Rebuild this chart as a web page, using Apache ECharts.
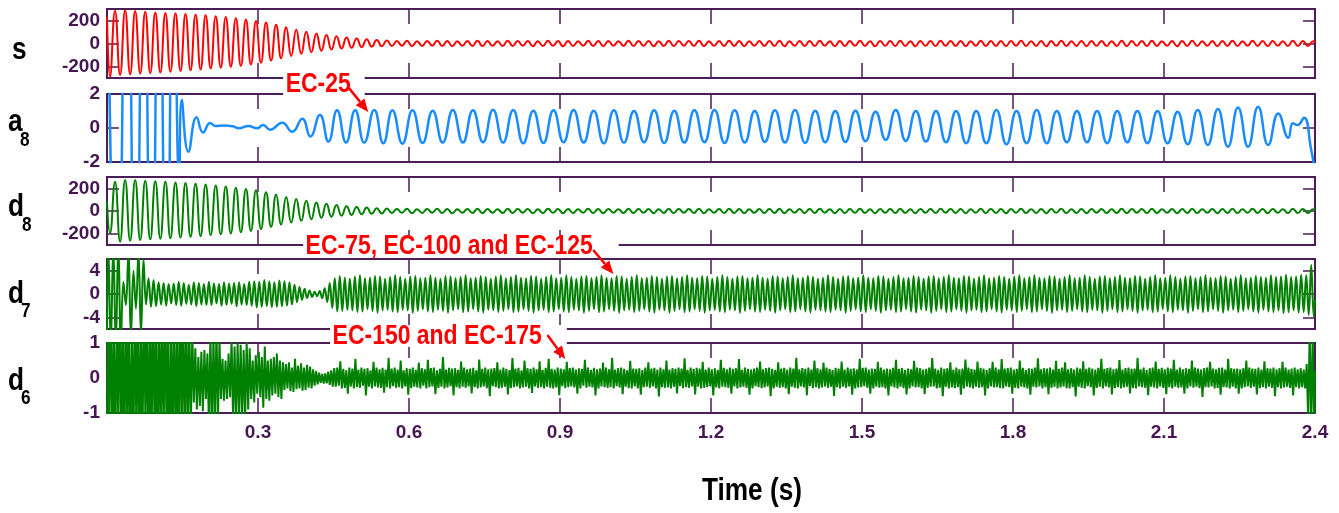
<!DOCTYPE html>
<html>
<head>
<meta charset="utf-8">
<script src="https://cdn.jsdelivr.net/npm/echarts@6/dist/echarts.min.js"></script>
<style>
  html, body { margin: 0; padding: 0; background: #ffffff; }
  #chart { width: 1339px; height: 513px; }
</style>
</head>
<body>
<div id="chart"></div>
<script>
// ---------------------------------------------------------------------------
// Wavelet decomposition of the signal s: approximation a8 and details d8..d6.
// Each trace is stored as its successive extrema (peak / trough values);
// an optional head and tail hold [time, value] pairs for irregular parts.
// ---------------------------------------------------------------------------

const timeTicks = [0.3, 0.6, 0.9, 1.2, 1.5, 1.8, 2.1, 2.4];
const timeTickLabels = ['0.3', '0.6', '0.9', '1.2', '1.5', '1.8', '2.1', '2.4'];

const sTicks = [-200, 0, 200];
const a8Ticks = [-2, 0, 2];
const d8Ticks = [-200, 0, 200];
const d7Ticks = [-4, 0, 4];
const d6Ticks = [-1, 0, 1];

// s : 50 Hz extrema every 0.01 s from t = 0.006 (trough first)
const sHead = [[0, 230]];
const sSwing = [
  -290,285, -275,290, -268,282, -262,276, -258,270, -252,266, -246,262, -240,256, -233,250, -226,245,
  -218,238, -210,230, -202,220, -194,208, -182,196, -168,182, -148,164, -128,142, -108,120, -90,102,
  -75,88, -62,74, -52,62, -44,52, -38,44, -32,37, -27,31, -24,27,
  -22,21, -20,23, -23,20, -21,22, -19,24, -22,21, -24,19, -20,22, -21,23, -23,21,
  -20,20, -22,24, -21,21, -19,22, -23,20, -22,23, -20,21, -24,22, -21,19, -20,23,
  -22,21, -23,22, -19,20, -21,24, -22,21, -20,22, -24,20, -21,23, -22,21, -19,22,
  -21,23, -23,20, -20,21, -22,24, -21,22, -23,19, -20,22, -22,21, -21,23, -24,20,
  -20,22, -22,21, -21,24, -19,20, -23,22, -22,21, -20,23, -21,20, -23,22, -20,21,
  -22,23, -21,20, -24,22, -20,21, -22,24, -19,21, -21,22, -23,20, -20,23, -22,21,
  -21,22, -23,21, -20,23, -22,20, -21,22, -24,21, -20,24, -22,19, -21,22, -23,21,
  -20,22, -22,20, -21,23, -23,21, -19,22, -22,24, -21,20, -20,22, -24,21, -21,23,
  -22,20, -20,22, -23,21, -21,24, -22,20, -20,23, -21,21, -23,22, -20,20, -22,23,
  -21,22, -22,20
];
const sTail = [[2.4, 5]];

// a8 : saturated start, decay, then a 25 Hz swing (extrema every 0.02 s from 0.567)
const a8Head = [
  [0, 14], [0.0199, -14], [0.0398, 14], [0.0567, -14], [0.0726, 14], [0.0885, -14],
  [0.1034, 14], [0.1183, -14], [0.1322, 14], [0.1435, -3.2], [0.1485, 1.65], [0.1617, -1.39],
  [0.178, 0.63], [0.191, -0.27], [0.205, 0.3], [0.215, 0.12], [0.232, 0.15], [0.25, 0.1],
  [0.262, -0.02], [0.281, 0.12], [0.298, -0.02], [0.31, 0.18], [0.324, -0.1], [0.348, 0.31],
  [0.368, -0.22], [0.388, 0.55], [0.404, -0.5], [0.423, 0.76], [0.44, -0.8], [0.457, 1.04],
  [0.475, -0.86], [0.493, 1.05], [0.511, -0.86], [0.531, 1.06], [0.549, -0.9]
];
const a8Swing = [
  1.05,-0.92, 1.04,-0.88, 1.02,-0.86, 1.06,-0.86, 1.05,-0.84, 1.08,-0.86, 1.06,-0.9, 1.02,-0.88,
  1.04,-0.84, 1.06,-0.86, 1.02,-0.9, 1.04,-0.86, 1.0,-0.84, 1.05,-0.88, 1.02,-0.86, 1.04,-0.84,
  1.06,-0.88, 1.04,-0.86, 1.0,-0.82, 1.04,-0.86, 1.06,-0.88, 1.02,-0.84, 1.0,-0.82, 1.02,-0.78,
  0.96,-0.7, 1.06,-0.76, 1.0,-0.8, 1.0,-0.84, 1.0,-0.9, 1.0,-0.9, 1.06,-0.96, 1.0,-0.9,
  1.06,-0.9, 1.0,-0.84, 1.0,-0.84, 1.0,-0.9, 1.0,-0.84, 1.0,-0.9, 1.0,-0.9, 0.96,-0.96,
  1.06,-1.0, 1.12,-1.1, 1.2,-1.1, 1.25,-1.0, 0.86,-0.57
];
const a8Tail = [[2.356, 0.28], [2.365, 0.17], [2.378, 0.6], [2.392, -1.2], [2.4, -2.6]];

// d8 : 50 Hz detail, extrema every 0.01 s from t = 0.006
const d8Head = [[0, 82]];
const d8Swing = [
  -195,259, -271,274, -262,274, -256,267, -250,262, -245,258, -240,252, -234,246, -228,240, -222,234,
  -214,226, -206,216, -198,206, -188,194, -176,182, -160,166, -140,146, -120,124, -102,106, -86,90,
  -72,76, -60,63, -50,52, -42,43, -35,36, -29,30, -24,25, -21,22,
  -18,17, -16,19, -19,16, -17,18, -15,19, -18,17, -19,16, -16,18, -17,19, -19,17,
  -16,16, -18,19, -17,17, -15,18, -19,16, -18,19, -16,17, -19,18, -17,15, -16,19,
  -18,17, -19,18, -15,16, -17,19, -18,17, -16,18, -19,16, -17,19, -18,17, -15,18,
  -17,19, -19,16, -16,17, -18,19, -17,18, -19,15, -16,18, -18,17, -17,19, -19,16,
  -16,18, -18,17, -17,19, -15,16, -19,18, -18,17, -16,19, -17,16, -19,18, -16,17,
  -18,19, -17,16, -19,18, -16,17, -18,19, -15,17, -17,18, -19,16, -16,19, -18,17,
  -17,18, -19,17, -16,19, -18,16, -17,18, -19,17, -16,19, -18,15, -17,18, -19,17,
  -16,18, -18,16, -17,19, -19,17, -15,18, -18,19, -17,16, -16,18, -19,17, -17,19,
  -18,16, -16,18, -19,17, -17,19, -18,16, -16,19, -17,17, -19,18, -16,16, -18,19,
  -17,18, -18,16
];
const d8Tail = [[2.4, 4]];

// d7 : 75/100/125 Hz band, extrema every 0.005 s from t = 0.0025
const d7Head = [[0, -6.5]];
const d7Swing = [
  9,-9, 8.5,-9, 9,-8.5,
  2.1,-1.9,
  7,-7.5, 4,-2.5, 7.5,-7, 6,
  -1.8, 2.7,-2.2, 2.4,-2.1,
  2.0,-1.8,1.9,-2.0,1.7,-1.6,1.8,-1.9,2.1,-2.0, 1.9,-1.7,1.6,-1.8,2.0,-2.1,1.9,-1.8,1.7,-1.9,
  2.1,-1.9,1.8,-1.6,1.7,-2.0,2.0,-1.9,1.8,-1.7, 1.9,-2.1,2.0,-1.8,1.7,-1.9,2.1,-2.0,
  2.2,-2.3,2.1,-2.2,2.4,-2.1,2.2,-2.3,2.0,-2.2,2.3,-2.1,2.2,-2.0,
  2.0,-1.8,1.6,-1.4,1.2,-1.0,
  0.9,-0.7,0.6,-0.5,0.4,-0.4,
  0.5,-0.7,1.0,-1.4,
  1.9,-2.4,2.7,-3.0,
  3.1,-2.9,2.8,-2.7,2.6,-2.8,3.0,-3.1,3.2,-3.0,2.7,-2.6,2.8,-2.9,3.1,-3.2,
  3.0,-2.8,2.6,-2.7,2.9,-3.0,3.2,-3.1,2.9,-2.7,2.6,-2.8,3.0,-3.2,3.1,-2.9,
  2.7,-2.6,2.8,-3.0,3.2,-3.1,2.8,-2.7,2.6,-2.9,3.1,-3.2,3.0,-2.8,2.7,-2.6,
  2.9,-3.1,3.2,-3.0,2.7,-2.6,2.8,-3.0,3.1,-3.2,2.9,-2.7,2.6,-2.8,3.0,-3.1,
  3.2,-2.9,2.7,-2.6,2.9,-3.1,3.2,-3.0,2.8,-2.6,2.7,-2.9,3.1,-3.2,3.0,-2.8,
  2.6,-2.7,2.9,-3.1,3.2,-3.0,2.7,-2.6,2.8,-3.0,3.2,-3.1,2.9,-2.7,2.6,-2.8,
  3.0,-3.2,3.1,-2.9,2.7,-2.6,2.9,-3.1,3.2,-3.0,2.8,-2.6,2.7,-2.9,3.1,-3.2,
  3.0,-2.8,2.6,-2.7,2.9,-3.1,3.2,-2.9,2.7,-2.6,2.8,-3.0,3.1,-3.2,2.9,-2.7,
  2.6,-2.8,3.0,-3.2,3.1,-2.9,2.7,-2.6,2.9,-3.1,3.2,-3.0,2.8,-2.6,2.7,-2.9,
  3.1,-3.2,3.0,-2.8,2.6,-2.7,2.9,-3.0,3.2,-3.1,2.9,-2.7,2.6,-2.8,3.0,-3.2,
  3.1,-2.9,2.7,-2.6,2.8,-3.0,3.2,-3.1,2.8,-2.7,2.6,-2.9,3.1,-3.2,3.0,-2.8,
  2.7,-2.6,2.9,-3.1,3.2,-3.0,2.7,-2.6,2.8,-3.0,3.1,-3.2,2.9,-2.7,2.6,-2.8,
  2.8,-3.0,3.2,-3.1,2.9,-2.7,2.6,-2.8,3.0,-3.2,3.1,-2.9,2.7,-2.6,2.8,-3.0,
  3.2,-3.1,2.8,-2.6,2.7,-2.9,3.1,-3.2,3.0,-2.8,2.6,-2.7,2.9,-3.1,3.2,-3.0,
  2.7,-2.6,2.8,-3.0,3.1,-3.2,2.9,-2.7,2.6,-2.8,3.0,-3.2,3.1,-2.9,2.7,-2.6,
  2.9,-3.1,3.2,-3.0,2.8,-2.6,2.7,-2.9,3.1,-3.2,3.0,-2.8,2.6,-2.7,2.9,-3.1,
  3.2,-3.0,2.7,-2.6,2.8,-3.0,3.1,-3.2,2.9,-2.7,2.6,-2.8,3.0,-3.1,3.2,-2.9,
  2.7,-2.6,2.9,-3.1,3.2,-3.0,2.8,-2.6,2.7,-2.9,3.1,-3.2,3.0,-2.8,2.6,-2.7,
  2.9,-3.1,3.2,-2.9,2.7,-2.6,2.8,-3.0,3.2,-3.1,2.9,-2.7,2.6,-2.8,3.0,-3.2,
  3.1,-2.9,2.7,-2.6,2.9,-3.1,3.2,-3.0,2.8,-2.6,2.7,-2.9,3.1,-3.2,3.0,-2.8,
  2.6,-2.7,2.9,-3.1,3.2,-3.0,2.7,-2.6,2.8,-3.0,3.2,-3.1,2.9,-2.7,2.6,-2.8,
  3.0,-3.2,3.1,-2.9,2.7,-2.6,2.9,-3.1,3.2,-3.0,2.8,-2.6,2.7,-2.9,3.1,-3.2,
  3.0,-2.8,2.6,-2.7,2.9,-3.1,3.2,-2.9,2.7,-2.6,2.8,-3.0,3.1,-3.2,2.9,-2.7,
  2.8,-3.0,3.2,-3.1,2.9,-2.8,3.0,-3.3,3.3,-3.1,2.9,-2.8,3.0,-3.2,3.3,-3.1,
  3.2,-3.6,5.0,-3.8
];
const d7Tail = [[2.4, -1]];

// d6 : 150/175 Hz band, extrema every 0.003 s from t = 0.0015
const d6Head = [[0, -1.5]];
const d6Swing = [
  2.2,-1.8,2.5,-2.0,1.6,-2.4,2.1,-1.5,2.6,-2.2, 1.8,-2.5,2.3,-1.7,2.0,-2.6,1.5,-2.1,2.4,-1.9,
  2.2,-2.3,1.7,-2.0,2.5,-1.6,2.1,-2.4,1.9,-2.2, 2.6,-1.8,1.6,-2.5,2.3,-2.0,1.8,-1.7,2.4,-2.1,
  2.0,-2.6,1.5,-1.9,2.2,-2.3,1.7,-2.4,2.5,-1.6, 1.9,-2.0,2.1,-1.8,1.6,-1.4,1.3,
  -0.7,0.85,-0.9,0.6,-0.8,0.75,-0.95,0.8,-0.6,0.7,
  -1.4,1.3,-1.5,1.2,-1.3,1.4,-1.2,1.1,
  -0.6,0.55,-0.65,0.5,-0.6,0.7,-0.55,
  1.1,-1.2,0.9,-1.3,1.0,-1.1,0.95,-1.2,0.8,-1.15,1.05,-0.9,0.85,
  -0.6,0.5,-0.7,0.65,-0.45,0.75,-0.55,0.6,-0.85,0.9,-0.6,0.5,-0.65,0.55,-0.5,0.6,-0.45,0.7,-0.55,0.5,-0.6,0.45,
  -0.35,0.4,-0.3,0.45,-0.38,0.3,-0.4,0.55,-0.32,0.35,-0.3,0.42,-0.36,0.3,-0.34,0.38,-0.28,0.33,-0.3,0.25,-0.22,0.2,-0.18,
  0.15,-0.14,0.12,-0.16,0.13,-0.15,0.18,-0.2,0.22,-0.25,
  0.28,-0.25,0.3,-0.22,0.48,-0.3,0.26,-0.28,0.22,-0.45,0.3,-0.24,0.27,-0.3,0.55,-0.26,0.24,-0.28,0.3,-0.22,
  0.26,-0.5,0.28,-0.25,0.22,-0.3,0.46,-0.24,0.3,-0.27,0.25,-0.28,0.29,-0.42,0.24,-0.26,0.58,-0.3,0.27,-0.23,
  0.3,-0.28,0.24,-0.26,0.5,-0.3,0.22,-0.24,0.28,-0.48,0.26,-0.29,0.3,-0.25,0.23,-0.27,0.44,-0.3,0.28,-0.22,
  0.25,-0.3,0.52,-0.26,0.28,-0.24,0.3,-0.46,0.22,-0.28,0.26,-0.25,0.6,-0.3,0.24,-0.27,0.29,-0.23,0.27,-0.5,
  0.28,-0.26,0.23,-0.3,0.47,-0.25,0.3,-0.28,0.25,-0.24,0.27,-0.44,0.29,-0.26,0.22,-0.3,0.53,-0.27,0.26,-0.24,
  0.3,-0.29,0.25,-0.52,0.27,-0.23,0.28,-0.26,0.45,-0.3,0.24,-0.28,0.3,-0.25,0.26,-0.47,0.23,-0.29,0.57,-0.26,
  0.27,-0.24,0.29,-0.3,0.22,-0.27,0.5,-0.25,0.28,-0.3,0.26,-0.43,0.3,-0.24,0.25,-0.28,0.48,-0.26,0.23,-0.3,
  0.29,-0.25,0.55,-0.28,0.26,-0.3,0.24,-0.27,0.3,-0.49,0.27,-0.23,0.25,-0.29,0.46,-0.26,0.28,-0.24,0.3,-0.27,
  0.24,-0.45,0.28,-0.3,0.26,-0.22,0.52,-0.28,0.3,-0.25,0.23,-0.27,0.29,-0.5,0.25,-0.3,0.27,-0.24,0.44,-0.26,
  0.3,-0.28,0.25,-0.26,0.58,-0.3,0.24,-0.23,0.28,-0.27,0.3,-0.46,0.26,-0.25,0.22,-0.29,0.49,-0.3,0.27,-0.24,
  0.26,-0.3,0.28,-0.48,0.23,-0.26,0.3,-0.25,0.45,-0.28,0.27,-0.24,0.29,-0.3,0.24,-0.53,0.3,-0.26,0.25,-0.28,
  0.5,-0.27,0.24,-0.3,0.28,-0.25,0.26,-0.44,0.3,-0.23,0.27,-0.29,0.56,-0.26,0.23,-0.28,0.3,-0.24,0.26,-0.47,
  0.29,-0.25,0.27,-0.3,0.46,-0.28,0.24,-0.26,0.3,-0.24,0.25,-0.5,0.28,-0.27,0.23,-0.3,0.52,-0.25,0.29,-0.26,
  0.25,-0.28,0.3,-0.45,0.26,-0.24,0.28,-0.3,0.54,-0.27,0.23,-0.25,0.3,-0.28,0.26,-0.48,0.24,-0.3,0.27,-0.23,
  0.3,-0.26,0.47,-0.29,0.25,-0.27,0.28,-0.24,0.3,-0.52,0.26,-0.3,0.23,-0.25,0.45,-0.28,0.27,-0.26,0.29,-0.3,
  0.24,-0.46,0.3,-0.25,0.27,-0.28,0.58,-0.3,0.25,-0.24,0.28,-0.27,0.26,-0.49,0.3,-0.23,0.24,-0.29,0.5,-0.26,
  0.28,-0.3,0.25,-0.27,0.44,-0.24,0.3,-0.28,0.26,-0.25,0.23,-0.51,0.29,-0.26,0.27,-0.3,0.47,-0.25,0.24,-0.28,
  0.3,-0.24,0.26,-0.48,0.28,-0.3,0.25,-0.27,0.55,-0.26,0.29,-0.23,0.3,-0.28,0.24,-0.45,0.27,-0.3,0.26,-0.25,
  0.46,-0.28,0.3,-0.26,0.24,-0.3,0.27,-0.5,0.25,-0.24,0.29,-0.27,0.52,-0.3,0.26,-0.25,0.28,-0.29,0.23,-0.47,
  0.27,-0.3,0.25,-0.24,0.49,-0.27,0.3,-0.26,0.28,-0.3,0.24,-0.46,0.26,-0.28,0.3,-0.25,0.57,-0.24,0.27,-0.3,
  0.23,-0.28,0.3,-0.52,0.26,-0.25,0.28,-0.3,0.45,-0.27,0.24,-0.29,0.3,-0.26,0.25,-0.48,0.27,-0.3,0.53,-0.24,
  0.3,-0.27,0.26,-0.3,0.24,-0.25,0.47,-0.28,0.29,-0.26,0.27,-0.5,0.23,-0.3,0.28,-0.24,0.46,-0.27,0.3,-0.26,
  0.25,-0.29,0.54,-0.3,0.27,-0.24,0.28,-0.26,0.3,-0.45,0.24,-0.28,0.26,-0.3,0.5,-0.25,0.29,-0.27,0.23,-0.3,
  0.28,-0.48,0.26,-0.25,0.3,-0.27,0.56,-0.24,0.25,-0.3,0.28,-0.26,0.27,-0.46,0.3,-0.28,0.24,-0.25,0.49,-0.3,
  0.26,-0.27,0.3,-0.24,0.45,-0.29,0.25,-0.3,0.28,-0.26,0.24,-0.53,0.3,-0.25,0.27,-0.28,0.48,-0.3,0.26,-0.23,
  0.3,-0.26,0.27,-0.5,0.24,-0.28,0.29,-0.25,0.55,-0.3,0.26,-0.24,0.28,-0.27,0.3,-0.47,0.25,-0.29,0.27,-0.26,
  0.51,-0.3,0.24,-0.27,0.28,-0.25,0.3,-0.44,0.26,-0.28,0.27,-0.3,0.58,-0.24,0.25,-0.26,0.3,-0.28,0.23,-0.49,
  0.28,-0.25,0.3,-0.27,0.47,-0.3,0.26,-0.24,0.29,-0.28,0.25,-0.46,0.3,-0.26,0.27,-0.3,0.52,-0.25,0.24,-0.28,
  0.3,-0.27,0.25,-0.45,0.28,-0.3,0.26,-0.24,0.5,-0.28,0.3,-0.25,0.27,-0.29,0.24,-0.54,0.28,-0.26,0.3,-0.27,
  0.46,-0.24,0.27,-0.3,0.25,-0.28,0.29,-0.48,0.3,-0.26,0.24,-0.27,0.55,-0.3,0.28,-0.25,0.26,-0.3,0.27,-0.45,
  0.25,-0.3,0.28,-0.26,0.5,-0.24,0.3,-0.28,0.27,-0.25,0.26,-0.47,0.3,-0.29,0.24,-0.26,0.48,-0.3,0.28,-0.25,
  0.27,-0.28,0.3,-0.52,0.25,-0.26,0.28,-0.3,0.46,-0.27,0.3,-0.25,0.24,-0.28,0.27,-0.5,0.3,-0.26,0.25,-0.3,
  0.28,-0.26,0.24,-0.3,
  0.4,-1.2,1.4,-1.3,1.2,-1.4
];
const d6Tail = [[2.4, 0.2]];

// Annotations (axis units of the panel they sit in)
const notes = [
  { text: 'EC-25', panel: 1, left: [0.35, 2.59], from: [0.479, 2.41], to: [0.519, 0.94], padRight: 14 },
  { text: 'EC-75, EC-100 and EC-125', panel: 3, left: [0.3897, 8.14], from: [0.966, 7.54], to: [1.006, 3.43], padRight: 26 },
  { text: 'EC-150 and EC-175', panel: 4, left: [0.4433, 1.2], from: [0.875, 1.23], to: [0.9105, 0.54], padRight: 25 }
];

// ---------------------------------------------------------------------------

function trace(head, start, step, values, tail) {
  const pts = head.map(p => p.slice());
  values.forEach((v, i) => pts.push([Math.round((start + i * step) * 1e5) / 1e5, v]));
  tail.forEach(p => pts.push(p.slice()));
  return pts;
}

const FRAME = '#4b1d56';
const TEXT = '#451650';
const SANS = "'Liberation Sans', Arial, sans-serif";
const NARROW = 0.82;   // horizontal squeeze giving a narrow bold face

const panels = [
  { name: 's', sub: '', color: '#ff0000', width: 2, smooth: 0.5, range: [-300, 300], ticks: sTicks,
    data: trace(sHead, 0.006, 0.01, sSwing, sTail), top: 9, height: 69,
    nameAt: [12, 50], subAt: null },
  { name: 'a', sub: '8', color: '#1a8cff', width: 2.5, smooth: 0.5, range: [-2, 2], ticks: a8Ticks,
    data: trace(a8Head, 0.567, 0.02, a8Swing, a8Tail), top: 94, height: 68,
    nameAt: [8, 122], subAt: [20, 140] },
  { name: 'd', sub: '8', color: '#008000', width: 2, smooth: 0.5, range: [-300, 300], ticks: d8Ticks,
    data: trace(d8Head, 0.006, 0.01, d8Swing, d8Tail), top: 177, height: 68,
    nameAt: [8, 207], subAt: [22, 225] },
  { name: 'd', sub: '7', color: '#008000', width: 2, smooth: 0.4, range: [-6, 6], ticks: d7Ticks,
    data: trace(d7Head, 0.0025, 0.005, d7Swing, d7Tail), top: 259, height: 70,
    nameAt: [8, 294], subAt: [21, 311] },
  { name: 'd', sub: '6', color: '#008000', width: 2, smooth: false, range: [-1, 1], ticks: d6Ticks,
    data: trace(d6Head, 0.0015, 0.003, d6Swing, d6Tail), top: 343, height: 70,
    nameAt: [8, 381], subAt: [21, 398] }
];

const grid = [], xAxis = [], yAxis = [], series = [], graphic = [];
const tickLine = { color: FRAME, width: 1.5 };
const last = panels.length - 1;

function label(text, x, y, size, fill, align, extra) {
  return Object.assign({ type: 'text', x: x, y: y, scaleX: NARROW, scaleY: 1, z: 40,
    style: Object.assign({ text: text, x: 0, y: 0, fill: fill, align: align, verticalAlign: 'middle',
      font: 'bold ' + size + 'px ' + SANS }, extra || {}) });
}

panels.forEach((p, i) => {
  grid.push({ left: 107, right: 24, top: p.top, height: p.height, show: true,
              borderColor: FRAME, borderWidth: 2, backgroundColor: 'transparent',
              containLabel: false, outerBoundsMode: 'none' });
  ['bottom', 'top'].forEach(pos => {
    xAxis.push({
      gridIndex: i, type: 'value', min: 0, max: 2.4, position: pos,
      axisLine: { show: false, onZero: false },
      splitLine: { show: false },
      axisTick: { show: true, inside: true, length: 15, lineStyle: tickLine,
                  customValues: timeTicks.slice(0, -1) },
      axisLabel: { show: pos === 'bottom' && i === last, customValues: timeTicks,
                   formatter: v => timeTickLabels[timeTicks.findIndex(t => Math.abs(t - v) < 1e-6)] || '',
                   color: TEXT, fontSize: 19, fontWeight: 'bold', fontFamily: SANS, margin: 10 }
    });
  });
  ['left', 'right'].forEach(pos => {
    yAxis.push({
      gridIndex: i, type: 'value', min: p.range[0], max: p.range[1], position: pos,
      axisLine: { show: false, onZero: false },
      splitLine: { show: false },
      axisTick: { show: true, inside: true, length: 12, lineStyle: tickLine, customValues: p.ticks },
      axisLabel: { show: pos === 'left', customValues: p.ticks, formatter: v => String(v),
                   color: TEXT, fontSize: 19, fontWeight: 'bold', fontFamily: SANS, margin: 7 }
    });
  });
  series.push({
    type: 'line', xAxisIndex: 2 * i, yAxisIndex: 2 * i, data: p.data,
    showSymbol: false, symbol: 'none', smooth: p.smooth, clip: true, sampling: null,
    lineStyle: { color: p.color, width: p.width }, z: 3, silent: true
  });
  graphic.push(label(p.name, p.nameAt[0], p.nameAt[1], 32, '#000', 'left'));
  if (p.sub) graphic.push(label(p.sub, p.subAt[0], p.subAt[1], 21, '#000', 'left'));
});

graphic.push(label('Time (s)', 752, 491, 32, '#000', 'center'));

const chart = echarts.init(document.getElementById('chart'), null, { renderer: 'canvas' });
chart.setOption({ animation: false, backgroundColor: '#ffffff', grid, xAxis, yAxis, series, graphic });

// Callouts: white-backed red labels with arrows pointing at the traces
const px = (panel, pt) => chart.convertToPixel({ xAxisIndex: 2 * panel, yAxisIndex: 2 * panel }, pt);
notes.forEach(n => {
  const a = px(n.panel, n.left), f = px(n.panel, n.from), t = px(n.panel, n.to);
  graphic.push(label(n.text, a[0], a[1], 28, '#ff0000', 'left', {
    lineHeight: 22, backgroundColor: '#ffffff', padding: [0, n.padRight / NARROW, 0, 3] }));
  const dx = t[0] - f[0], dy = t[1] - f[1], L = Math.hypot(dx, dy);
  const ux = dx / L, uy = dy / L, head = 13, half = 5.5;
  const bx = t[0] - ux * head, by = t[1] - uy * head;
  graphic.push({ type: 'line', z: 51, shape: { x1: f[0], y1: f[1], x2: bx, y2: by },
                 style: { stroke: '#ff0000', lineWidth: 2.5 } });
  graphic.push({ type: 'polygon', z: 51, shape: { points: [
      [t[0], t[1]], [bx - uy * half, by + ux * half], [bx + uy * half, by - ux * half]] },
    style: { fill: '#ff0000' } });
});
chart.setOption({ graphic }, { replaceMerge: ['graphic'] });
</script>
</body>
</html>
